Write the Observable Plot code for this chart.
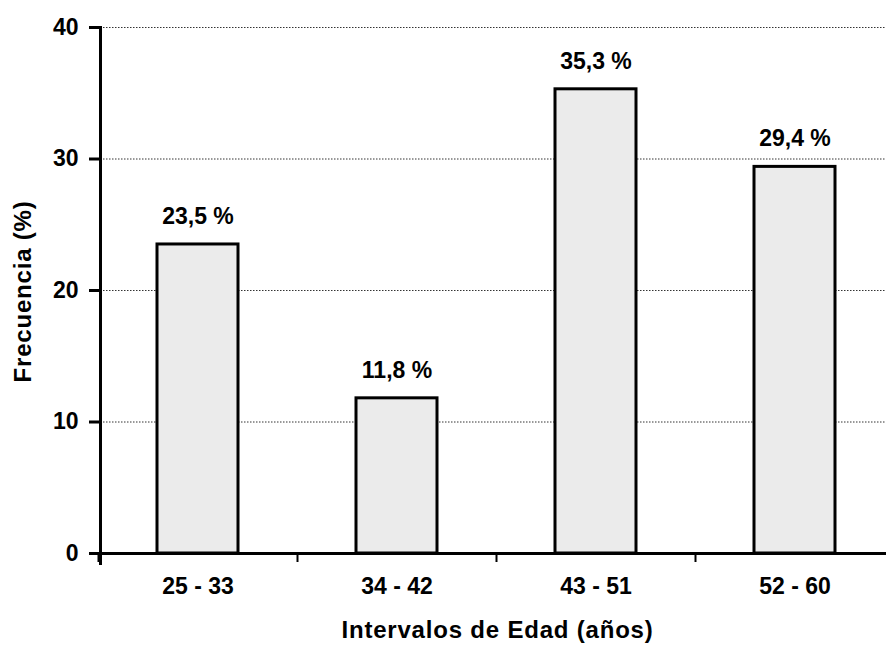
<!DOCTYPE html>
<html><head><meta charset="utf-8">
<script src="https://cdn.jsdelivr.net/npm/d3@7"></script>
<script src="https://cdn.jsdelivr.net/npm/@observablehq/plot@0.6"></script>
<style>
body{margin:0;background:#fff}
.xlab text,.ylab text{letter-spacing:0.8px}
</style>
</head><body><div id="chart"></div>
<script>
const categories = ["25 - 33", "34 - 42", "43 - 51", "52 - 60"];
const frecuencia = [23.5, 11.8, 35.3, 29.4];
const etiquetas = ["23,5 %", "11,8 %", "35,3 %", "29,4 %"];
const yTicks = [0, 10, 20, 30, 40];
const xTitle = "Intervalos de Edad (años)";
const yTitle = "Frecuencia (%)";

const data = categories.map((c, i) => ({c, v: frecuencia[i], label: etiquetas[i]}));

const chart = Plot.plot({
  width: 886, height: 645,
  marginTop: 27, marginBottom: 92, marginLeft: 100, marginRight: 0,
  style: {fontFamily: "'Liberation Sans', Arial, sans-serif", fontSize: "23px", fontWeight: "bold", color: "black", background: "white"},
  x: {domain: categories, range: [100, 892], paddingInner: 0.593, paddingOuter: 0.286, align: 0.5, label: null, axis: null},
  y: {domain: [0, 40], label: null, axis: null},
  marks: [
    Plot.gridY(yTicks.slice(1), {stroke: "#333", strokeOpacity: 1, strokeWidth: 1, strokeDasharray: "1.5,1.5"}),
    Plot.barY(data, {x: "c", y: "v", fill: "#ebebeb", stroke: "black", strokeWidth: 3}),
    Plot.text(data, {x: "c", y: "v", text: "label", dy: -28, fontSize: 23, fontWeight: "bold"}),
    Plot.ruleY([0], {stroke: "black", strokeWidth: 3, insetLeft: -10}),
    Plot.axisY(yTicks, {tickSize: 11, tickPadding: 11, strokeWidth: 3, fontSize: 23, fontWeight: "bold", label: null}),
    Plot.axisX({tickSize: 9, tickFormat: () => "", dx: -99.5, strokeWidth: 2, label: null}),
    Plot.axisX({tickSize: 0, tickPadding: 24, fontSize: 23, fontWeight: "bold", label: null}),
    Plot.frame({anchor: "left", stroke: "black", strokeWidth: 3, insetBottom: -10}),
    Plot.text([xTitle], {frameAnchor: "bottom", text: d => d, dx: 4, dy: 84, fontSize: 24, fontWeight: "bold", className: "xlab"}),
    Plot.text([yTitle], {frameAnchor: "left", text: d => d, textAnchor: "middle", lineAnchor: "middle", dx: -77, dy: 1, rotate: -90, fontSize: 24, fontWeight: "bold", className: "ylab"})
  ]
});
document.getElementById("chart").append(chart);
</script>
</body></html>
